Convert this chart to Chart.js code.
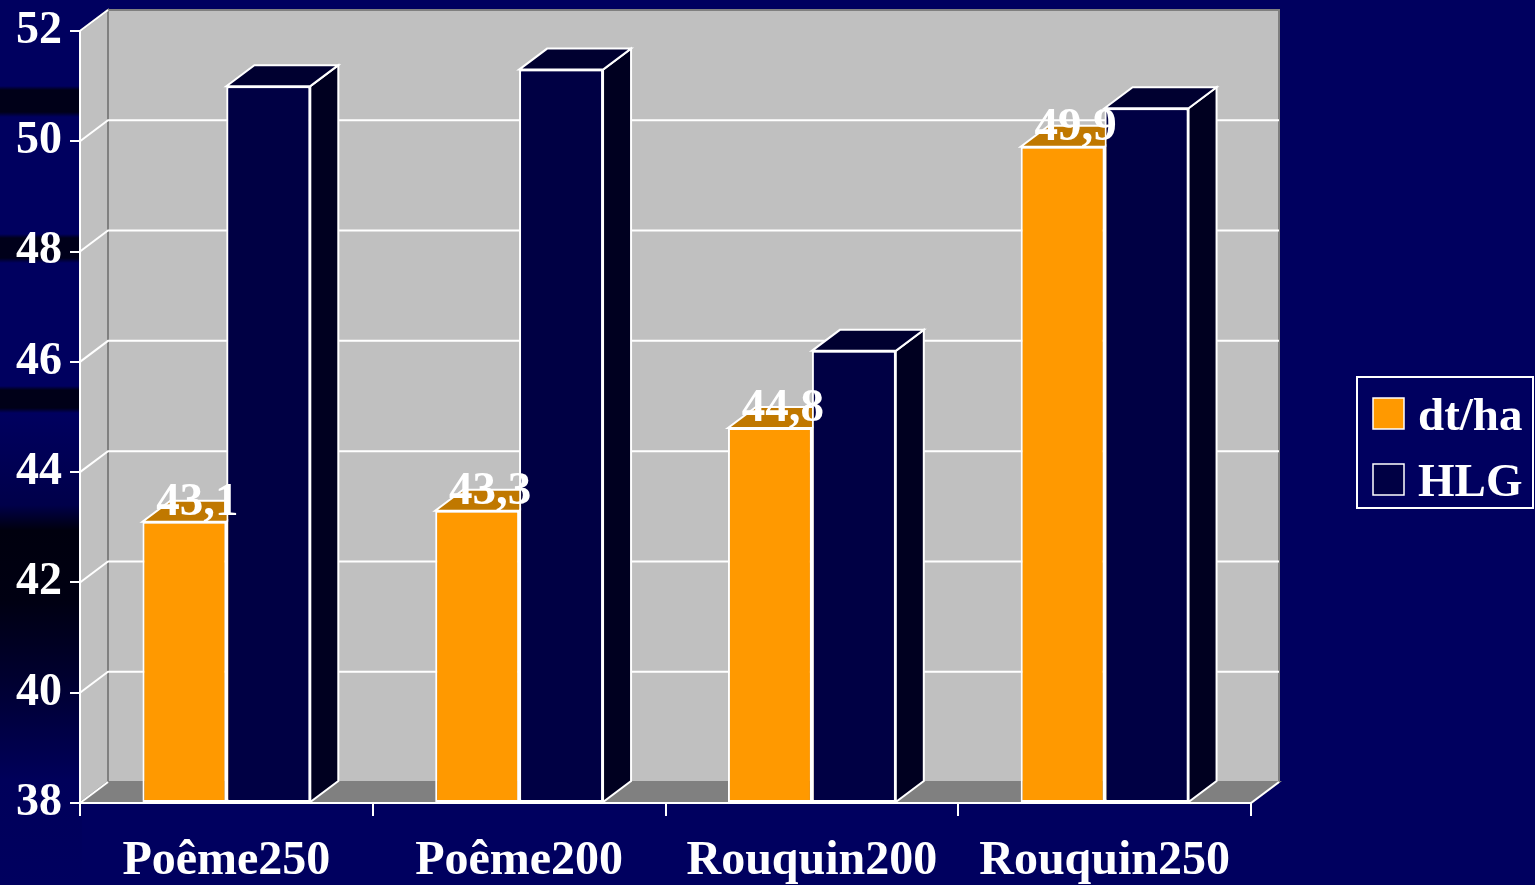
<!DOCTYPE html>
<html lang="fr">
<head>
<meta charset="UTF-8">
<title>dt/ha et HLG</title>
<script src="https://cdn.jsdelivr.net/npm/chart.js"></script>
<style>
  html, body { margin: 0; padding: 0; background: #00005F; }
  #wrap { position: relative; width: 1535px; height: 885px; }
  /* dark streaks of the slide background, left of the plot */
  #streaks {
    position: absolute; left: 0; top: 0; width: 82px; height: 885px;
    background: linear-gradient(to bottom,
      #00005F 0px, #00005F 86px, #000018 90px, #000018 112px, #00005F 117px,
      #00005F 234px, #00001A 238px, #00001A 258px, #00005F 263px,
      #00005F 386px, #000018 390px, #000018 408px, #00005F 413px,
      #00004A 505px, #00000E 530px, #000012 600px, #000030 680px, #00005A 780px, #00005F 885px);
  }
  canvas { position: absolute; left: 0; top: 0; }
</style>
</head>
<body>
<div id="wrap"><div id="streaks"></div><canvas id="chart" width="1535" height="885"></canvas></div>
<script>
// values
const categories = ['Poême250', 'Poême200', 'Rouquin200', 'Rouquin250'];
const dtHa = [43.1, 43.3, 44.8, 49.9];
const hlg = [51.0, 51.3, 46.2, 50.6];
const seriesNames = ['dt/ha', 'HLG'];
const yTicks = [38, 40, 42, 44, 46, 48, 50, 52];

const FONT = '"Liberation Serif", "Times New Roman", serif';
const DX = 28, DY = -21; // depth of the 3d box

// colours: front, top, side
const faces = [
  { front: '#FF9900', top: '#C07800', side: '#A06000' },
  { front: '#000044', top: '#000030', side: '#000020' }
];

function poly(ctx, pts, fill) {
  ctx.beginPath();
  ctx.moveTo(pts[0][0], pts[0][1]);
  for (let i = 1; i < pts.length; i++) ctx.lineTo(pts[i][0], pts[i][1]);
  ctx.closePath();
  ctx.fillStyle = fill;
  ctx.fill();
  ctx.stroke();
}

// top and right faces of each bar of one dataset
function drawDepth(chart, index) {
  const { ctx } = chart;
  const f = faces[index];
  ctx.save();
  ctx.strokeStyle = '#FFFFFF';
  ctx.lineWidth = 2;
  chart.getDatasetMeta(index).data.forEach(el => {
    const p = el.getProps(['x', 'y', 'base', 'width'], true);
    const l = p.x - p.width / 2, r = p.x + p.width / 2;
    poly(ctx, [[r, p.y], [r + DX, p.y + DY], [r + DX, p.base + DY], [r, p.base]], f.side);
    poly(ctx, [[l, p.y], [r, p.y], [r + DX, p.y + DY], [l + DX, p.y + DY]], f.top);
  });
  ctx.restore();
}

const box3d = {
  id: 'box3d',
  beforeDraw(chart) {
    const { ctx, chartArea: a, scales: { y } } = chart;
    ctx.save();
    ctx.strokeStyle = '#808080';
    ctx.lineWidth = 2;
    // side wall, back wall, floor
    poly(ctx, [[a.left, a.top], [a.left + DX, a.top + DY], [a.left + DX, a.bottom + DY], [a.left, a.bottom]], '#C0C0C0');
    poly(ctx, [[a.left + DX, a.top + DY], [a.right + DX, a.top + DY], [a.right + DX, a.bottom + DY], [a.left + DX, a.bottom + DY]], '#C0C0C0');
    poly(ctx, [[a.left, a.bottom], [a.right, a.bottom], [a.right + DX, a.bottom + DY], [a.left + DX, a.bottom + DY]], '#808080');
    // grid lines on the walls
    ctx.strokeStyle = '#FFFFFF';
    yTicks.forEach(v => {
      const py = y.getPixelForValue(v);
      ctx.beginPath();
      ctx.moveTo(a.left, py);
      ctx.lineTo(a.left + DX, py + DY);
      if (v !== yTicks[0] && v !== yTicks[yTicks.length - 1]) ctx.lineTo(a.right + DX, py + DY);
      ctx.stroke();
    });
    ctx.beginPath();
    ctx.moveTo(a.right, a.bottom);
    ctx.lineTo(a.right + DX, a.bottom + DY);
    ctx.stroke();
    ctx.restore();
  },
  afterDatasetsDraw(chart) {
    const { ctx } = chart;
    // Chart.js paints the last dataset first, so put HLG back in front
    drawDepth(chart, 0);
    chart.getDatasetMeta(1).data.forEach(el => el.draw(ctx));
    drawDepth(chart, 1);
    ctx.save();
    ctx.fillStyle = '#FFFFFF';
    ctx.font = 'bold 47px ' + FONT;
    ctx.textAlign = 'center';
    ctx.textBaseline = 'middle';
    chart.getDatasetMeta(0).data.forEach((el, i) => {
      ctx.fillText(dtHa[i].toFixed(1).replace('.', ','), el.x + 13, el.y - 19);
    });
    ctx.restore();
  },
  afterDraw(chart) {
    const { ctx } = chart;
    ctx.save();
    ctx.strokeStyle = '#FFFFFF';
    ctx.lineWidth = 2;
    ctx.strokeRect(1357, 377, 176, 131);
    ctx.font = 'bold 47px ' + FONT;
    ctx.textAlign = 'left';
    ctx.textBaseline = 'alphabetic';
    chart.data.datasets.forEach((ds, i) => {
      const top = 398 + i * 66;
      ctx.fillStyle = faces[i].front;
      ctx.fillRect(1373, top, 31, 31);
      ctx.lineWidth = 1.5;
      ctx.strokeRect(1373, top, 31, 31);
      ctx.fillStyle = '#FFFFFF';
      ctx.fillText(ds.label, 1418, top + 32);
    });
    ctx.restore();
  }
};

new Chart(document.getElementById('chart'), {
  type: 'bar',
  data: {
    labels: categories,
    datasets: [
      { label: seriesNames[0], data: dtHa, backgroundColor: faces[0].front },
      { label: seriesNames[1], data: hlg, backgroundColor: faces[1].front }
    ]
  },
  options: {
    responsive: false,
    animation: false,
    layout: { padding: { top: 30, right: 284, left: 0, bottom: 0 } },
    datasets: {
      bar: {
        base: 38,
        categoryPercentage: 0.5734,
        barPercentage: 1,
        borderColor: '#FFFFFF',
        borderWidth: 2,
        borderSkipped: false
      }
    },
    plugins: { legend: { display: false }, tooltip: { enabled: false } },
    scales: {
      x: {
        offset: true,
        afterFit(s) { s.height = 82; },
        grid: { offset: true, drawOnChartArea: false, drawTicks: true, tickLength: 13, color: '#FFFFFF', lineWidth: 2 },
        border: { display: true, color: '#FFFFFF', width: 2 },
        ticks: { color: '#FFFFFF', padding: 18, font: { family: FONT, size: 48, weight: 'bold', lineHeight: 1.15 } }
      },
      y: {
        min: 38,
        max: 52,
        afterFit(s) { s.width = 80; },
        afterBuildTicks(s) { s.ticks = yTicks.map(v => ({ value: v })); },
        grid: { drawOnChartArea: false, drawTicks: true, tickLength: 10, color: '#FFFFFF', lineWidth: 2 },
        border: { display: true, color: '#FFFFFF', width: 2 },
        ticks: { color: '#FFFFFF', padding: 8, font: { family: FONT, size: 46, weight: 'bold', lineHeight: 1 } }
      }
    }
  },
  plugins: [box3d]
});
</script>
</body>
</html>
